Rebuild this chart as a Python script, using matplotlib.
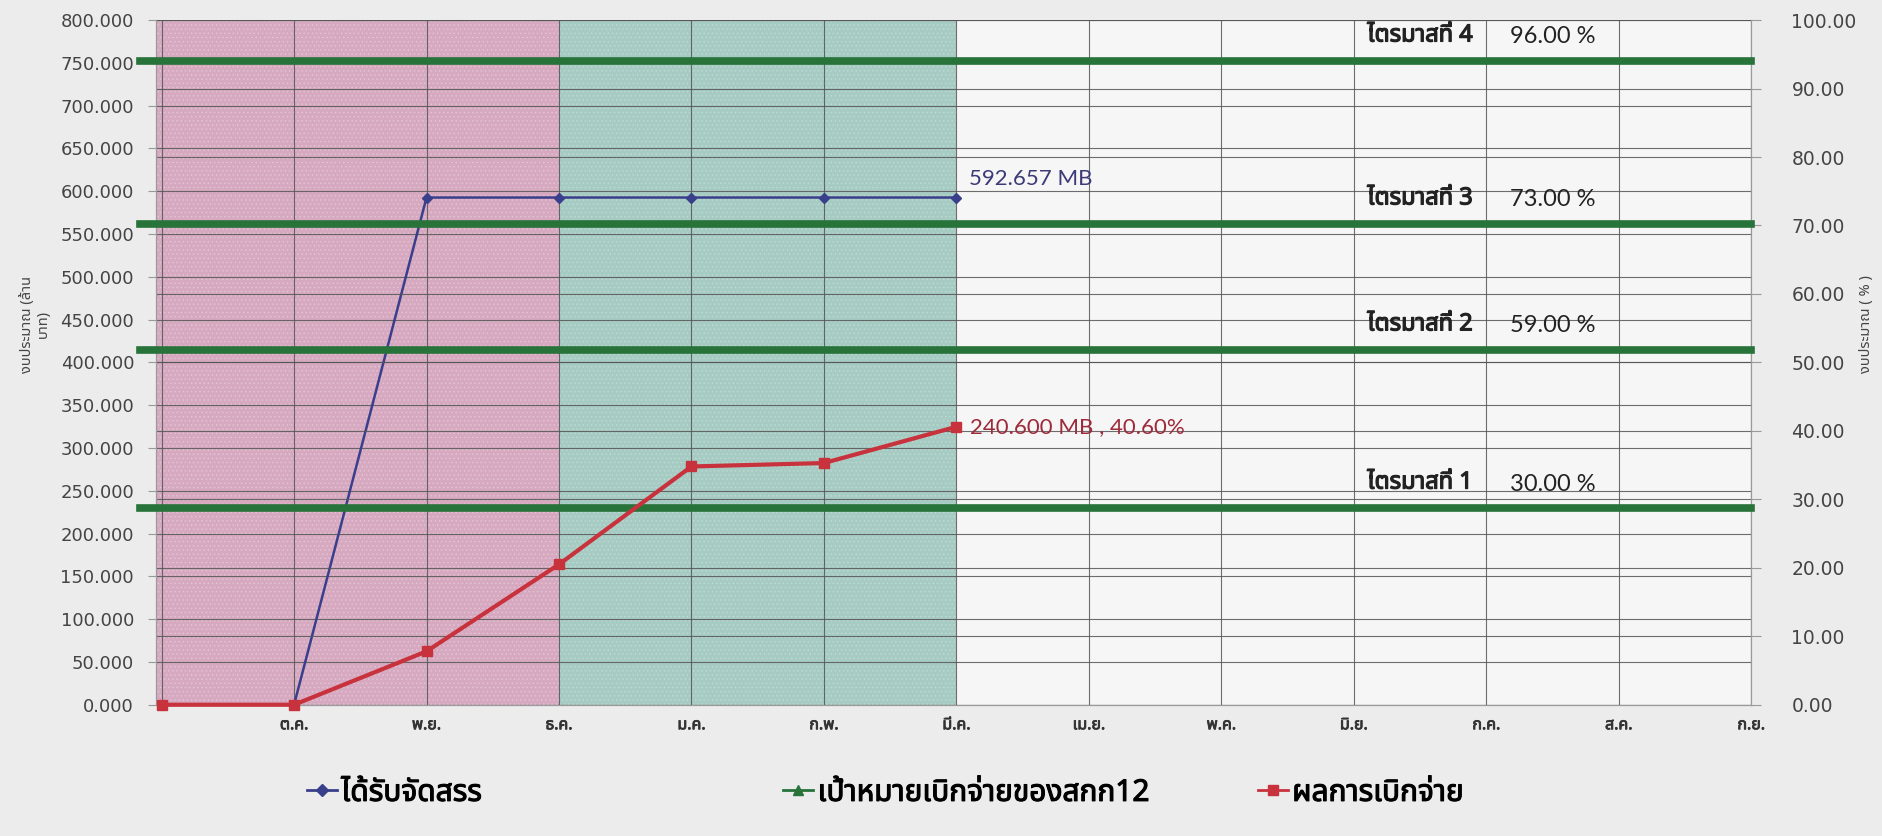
"""
# Budget allocation vs. disbursement chart (fiscal year, Oct - Sep)
"""

### Packages
import matplotlib
matplotlib.use('Agg')
import matplotlib.pyplot as plt
import matplotlib.patheffects as pe
from matplotlib import font_manager
from matplotlib.ft2font import FT2Font
from matplotlib.lines import Line2D
import numpy as np

### Data
months = ['', 'ต.ค.', 'พ.ย.', 'ธ.ค.', 'ม.ค.', 'ก.พ.', 'มี.ค.', 'เม.ย.', 'พ.ค.', 'มิ.ย.', 'ก.ค.', 'ส.ค.', 'ก.ย.']
allocated_mb = [np.nan, 0, 592.657, 592.657, 592.657, 592.657, 592.657]   # left axis (million baht)
disbursed_pct = [0, 0, 7.8, 20.5, 34.8, 35.3, 40.6]                      # right axis (%)
disbursed_mb_total = 240.600
target_lines_pct = [28.7, 51.8, 70.2, 94.0]                              # green target lines (%)
quarter_names = ['ไตรมาสที่ 1', 'ไตรมาสที่ 2', 'ไตรมาสที่ 3', 'ไตรมาสที่ 4']
quarter_targets = [30.00, 59.00, 73.00, 96.00]
legend_names = ['ได้รับจัดสรร', 'เป้าหมายเบิกจ่ายของสกก12', 'ผลการเบิกจ่าย']


### Functions
# Look for an installed font that has Thai glyphs
def find_thai_font():
    prefer = ['Noto Sans Thai', 'Noto Sans Thai UI', 'Sarabun', 'Noto Sans Thai Looped',
              'Loma', 'Garuda', 'Waree', 'Kinnari', 'Norasi']
    fonts = font_manager.fontManager.ttflist
    thai_named = [f for f in fonts if 'thai' in f.name.lower()]
    found = {}
    for f in thai_named + fonts:
        if f.name in found:
            continue
        try:
            cmap = FT2Font(f.fname).get_charmap()
        except Exception:
            continue
        if 0x0E44 in cmap and 0x0E01 in cmap:
            found[f.name] = f.fname
            if f.name == prefer[0]:
                break
    for p in prefer:
        if p in found:
            return p
    return next(iter(found), 'DejaVu Sans')


thai = find_thai_font()
num_font = ['Lato', thai, 'DejaVu Sans']
plt.rcParams['font.family'] = ['DejaVu Sans', thai]
plt.rcParams['hatch.linewidth'] = 0.5

blue = '#3a3f8c'
red = '#c8323c'
green = '#27733a'
grid_c = '#555555'
bold_fx = [pe.withStroke(linewidth=0.9, foreground='#222222')]

fig = plt.figure(figsize=(18.83, 8.36), dpi=100, facecolor='#ececec')
ax = fig.add_axes([0.083, 0.157, 0.847, 0.819])
ax.set_facecolor('#f6f6f6')
ax2 = ax.twinx()

x = np.arange(len(months))
ax.set_xlim(-0.04, len(months) - 1)

# Quarter shading (Q1 pink, Q2 teal)
ax.axvspan(ax.get_xlim()[0], 3, facecolor='#d6a9c0', edgecolor='#e4c6d5', hatch='....', lw=0, zorder=0)
ax.axvspan(3, 6, facecolor='#a6cbc3', edgecolor='#c0dbd4', hatch='....', lw=0, zorder=0)

# Left axis: million baht
ax.set_ylim(0, 800)
ax.set_yticks(np.arange(0, 801, 50))
ax.set_yticklabels([f'{v:.3f}' for v in np.arange(0, 801, 50)])
ax.set_xticks(x)
ax.set_xticklabels(months, family=thai, fontsize=11.5, color='#333333')
for lbl in ax.get_xticklabels():
    lbl.set_path_effects([pe.withStroke(linewidth=0.6, foreground='#333333')])
ax.grid(True, axis='both', color=grid_c, lw=0.8, alpha=0.85)
ax.set_axisbelow(True)
ax.tick_params(axis='y', labelsize=13, labelcolor='#444444', color='#999999', length=6, pad=10)
ax.tick_params(axis='x', length=0, pad=9)

# Right axis: percent
ax2.set_ylim(0, 100)
ax2.set_yticks(np.arange(0, 101, 10))
ax2.set_yticklabels([f'{v:.2f}' for v in np.arange(0, 101, 10)])
ax2.grid(True, axis='y', color=grid_c, lw=0.8, alpha=0.85)
ax2.tick_params(axis='y', labelsize=13.5, labelcolor='#444444', color='#999999', length=7, pad=22)

for a in (ax, ax2):
    a.spines['top'].set_visible(False)
    for s in ('left', 'right', 'bottom'):
        a.spines[s].set_color('#9a9a9a')

# Allocated budget (left axis)
ax.plot(x[:len(allocated_mb)], allocated_mb, color=blue, lw=1.8, marker='D', ms=5, zorder=5)
ax.annotate(f'{allocated_mb[-1]:.3f} MB', xy=(len(allocated_mb) - 1, allocated_mb[-1]),
            xytext=(9, 6), textcoords='offset points', ha='left', va='bottom',
            fontsize=16, color='#3b3b78', family=num_font)

# Target lines (right axis)
for v in target_lines_pct:
    ax2.axhline(v, xmin=-0.01, xmax=1.0, color=green, lw=5.5, clip_on=False, zorder=3)

# Disbursed (right axis)
ax2.plot(x[:len(disbursed_pct)], disbursed_pct, color=red, lw=3, marker='s', ms=7,
         clip_on=False, zorder=6)
ax2.annotate(f'{disbursed_mb_total:.3f} MB , {disbursed_pct[-1]:.2f}%',
             xy=(len(disbursed_pct) - 1, disbursed_pct[-1]), xytext=(10, 0),
             textcoords='offset points', ha='left', va='center',
             fontsize=16, color='#9e2a3a', family=num_font)

# Quarter target labels
name_x = months.index('มิ.ย.') + 0.5
pct_x = months.index('ก.ค.') + 0.5
for v, name, t in zip(target_lines_pct, quarter_names, quarter_targets):
    ax2.text(name_x, v + 2, name, ha='center', va='bottom', fontsize=17,
             family=thai, color='#222222', path_effects=bold_fx)
    ax2.text(pct_x, v + 2, f'{t:.2f} %', ha='center', va='bottom', fontsize=17, family=num_font,
             color='#222222')

# Axis titles
fig.text(0.019, 0.612, 'งบประมาณ (ล้าน\nบาท)', rotation=90, ha='center', va='center',
         fontsize=10.5, family=thai, color='#444444', linespacing=1.1)
fig.text(0.991, 0.612, 'งบประมาณ ( % )', rotation=90, ha='center', va='center',
         fontsize=10.5, family=thai, color='#444444')

# Legend, entries spread like the original
handles = [Line2D([], [], color=blue, lw=2, marker='D', ms=6),
           Line2D([], [], color=green, lw=2, marker='^', ms=7),
           Line2D([], [], color=red, lw=2, marker='s', ms=7)]
for h, name, lx in zip(handles, legend_names, [0.163, 0.416, 0.668]):
    leg = fig.legend(handles=[h], labels=[name], loc='center left', bbox_to_anchor=(lx, 0.051),
                     frameon=False, handlelength=1.0, handletextpad=0.15, borderpad=0,
                     borderaxespad=0, prop={'family': thai, 'size': 21.5})
    for t in leg.get_texts():
        t.set_path_effects([pe.withStroke(linewidth=0.8, foreground='black')])

fig.savefig('out.png', dpi=100, facecolor=fig.get_facecolor())
